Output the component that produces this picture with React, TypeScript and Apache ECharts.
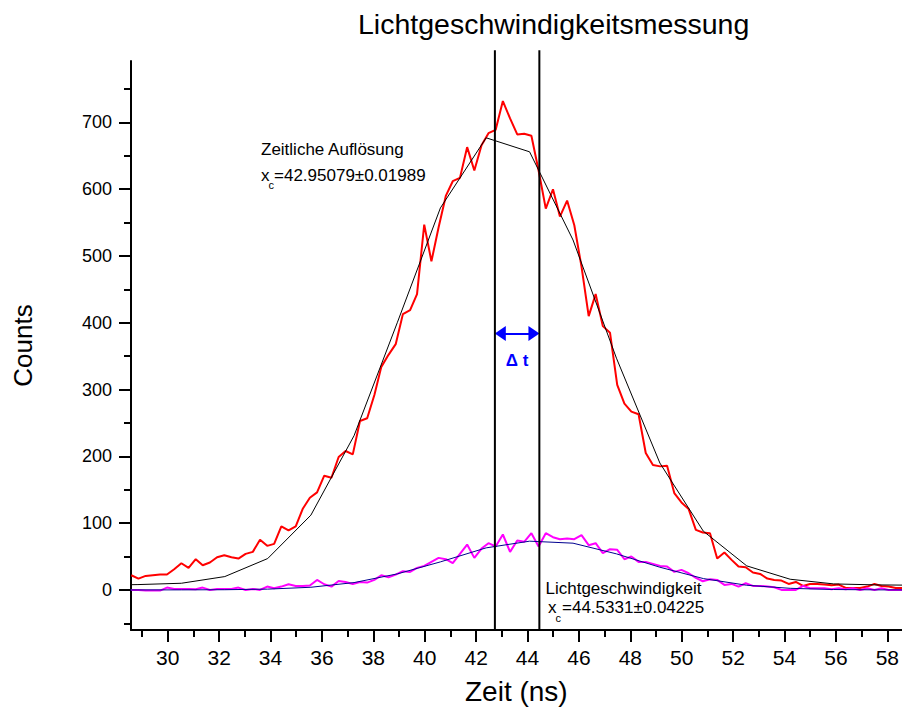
import React, { useEffect, useRef } from "react";
import * as echarts from "echarts";

// Measured channels (ns)
const timeNs = [
  28.58, 28.86, 29.14, 29.42, 29.7, 29.97, 30.25, 30.53, 30.81, 31.09,
  31.36, 31.64, 31.92, 32.2, 32.48, 32.75, 33.03, 33.31, 33.59, 33.87,
  34.14, 34.42, 34.7, 34.98, 35.26, 35.53, 35.81, 36.09, 36.37, 36.65,
  36.92, 37.2, 37.48, 37.76, 38.04, 38.31, 38.59, 38.87, 39.15, 39.43,
  39.7, 39.98, 40.26, 40.54, 40.82, 41.09, 41.37, 41.65, 41.93, 42.21,
  42.48, 42.76, 43.04, 43.32, 43.6, 43.87, 44.15, 44.43, 44.71, 44.99,
  45.26, 45.54, 45.82, 46.1, 46.38, 46.65, 46.93, 47.21, 47.49, 47.77,
  48.04, 48.32, 48.6, 48.88, 49.16, 49.43, 49.71, 49.99, 50.27, 50.55,
  50.82, 51.1, 51.38, 51.66, 51.94, 52.21, 52.49, 52.77, 53.05, 53.33,
  53.6, 53.88, 54.16, 54.44, 54.72, 54.99, 55.27, 55.55, 55.83, 56.11,
  56.38, 56.66, 56.94, 57.22, 57.5, 57.77, 58.05, 58.33, 58.61,
];

// Zeitliche Auflösung (red)
const countsResolution = [
  22, 17, 21, 22, 23, 23, 31, 40, 33, 46,
  37, 41, 49, 52, 49, 47, 54, 57, 75, 66,
  69, 95, 89, 95, 122, 138, 146, 171, 168, 199,
  208, 203, 253, 257, 292, 334, 352, 368, 413, 419,
  443, 547, 492, 543, 590, 612, 617, 663, 628, 666,
  684, 689, 732, 706, 682, 683, 680, 628, 571, 600,
  559, 583, 546, 484, 410, 443, 395, 385, 307, 279,
  267, 263, 205, 187, 185, 186, 145, 131, 121, 90,
  86, 85, 47, 56, 45, 35, 34, 26, 24, 17,
  15, 14, 9, 12, 6, 9, 9, 8, 7, 8,
  3, 3, 3, 5, 9, 6, 5, 3, 3,
];

// Lichtgeschwindigkeit (magenta)
const countsLight = [
  0, 0, -1, -1, -1, 3.5, 1.5, 1.5, 1.5, 1,
  3.5, 0, 1.5, 1.5, 1.5, 3.5, 0, 1.5, 0, 5,
  2.5, 5, 8.5, 6, 6, 6.5, 15, 8.5, 5, 13.5,
  12, 9, 12, 11, 15, 22, 19, 23, 28, 27,
  33, 36, 42, 48, 46, 40, 54, 68, 48, 62,
  70, 65, 83, 57, 74, 72, 85, 65, 85, 79,
  76, 77, 76, 82, 67, 70, 55, 61, 60, 46,
  50, 42, 42, 39, 36, 35, 27, 30, 25, 18,
  13, 16, 15, 7.5, 9, 5, 10, 6, 6, 5,
  4, 0, 0, 0, 6, 2.5, 2.5, 2.5, 1, 2.5,
  1, 2.5, 0, 2.5, 0, 2.5, 0, 0, 0,
];

// Gaussian fit curves (sampled)
const fitTimeNs = [
  27.15, 28.84, 30.53, 32.22, 33.89, 35.57, 37.25, 38.93, 40.61, 42.39,
  44.08, 45.77, 47.46, 49.15, 50.84, 52.53, 54.22, 55.91, 57.6, 59.29,
];
const fitResolution = [
  7, 8, 10, 20, 47, 112, 231, 400, 572, 677,
  656, 524, 347, 190, 88, 36, 16, 9, 7.5, 7,
];
const fitLight = [
  0, 0, 0.1, 0.3, 1.2, 4, 11, 24, 42, 63,
  73, 70, 54, 34, 17, 7, 2.4, 0.6, 0.1, 0,
];

const xMajorTicks = [30, 32, 34, 36, 38, 40, 42, 44, 46, 48, 50, 52, 54, 56, 58];
const xMinorTicks = [29, 31, 33, 35, 37, 39, 41, 43, 45, 47, 49, 51, 53, 55, 57];
const yMajorTicks = [0, 100, 200, 300, 400, 500, 600, 700];
const yMinorTicks = [-50, 50, 150, 250, 350, 450, 550, 650, 750];

const markerTimes = [42.73, 44.46];
const markerTop = 808;
const arrowFrom = 42.94;
const arrowTo = 44.25;
const arrowLevel = 384;

const X_MIN = 28.57;
const X_MAX = 58.56;
const Y_MIN = -60;
const Y_MAX = 792;

const FONT = "'Liberation Sans', Arial, Helvetica, sans-serif";

export default function App() {
  const ref = useRef<HTMLDivElement | null>(null);

  useEffect(() => {
    if (!ref.current) return;
    const chart = echarts.init(ref.current, undefined, { renderer: "svg" });

    const pairs = (xs: number[], ys: number[]) => xs.map((x, i) => [x, ys[i]]);

    const axisLineStyle = { color: "#000", width: 2 };

    const texts: any[] = [
      { type: "text", x: 261, y: 149, style: { text: "Zeitliche Auflösung", fontSize: 17, fontFamily: FONT, fill: "#000", verticalAlign: "middle" } },
      { type: "text", x: 261, y: 175, style: { text: "x", fontSize: 17, fontFamily: FONT, fill: "#000", verticalAlign: "middle" } },
      { type: "text", x: 268.5, y: 184.5, style: { text: "c", fontSize: 11, fontFamily: FONT, fill: "#000", verticalAlign: "middle" } },
      { type: "text", x: 274, y: 175, style: { text: "=42.95079±0.01989", fontSize: 17, fontFamily: FONT, fill: "#000", verticalAlign: "middle" } },
      { type: "text", x: 545.5, y: 588.5, style: { text: "Lichtgeschwindigkeit", fontSize: 17, fontFamily: FONT, fill: "#000", verticalAlign: "middle" } },
      { type: "text", x: 548, y: 607.5, style: { text: "x", fontSize: 17, fontFamily: FONT, fill: "#000", verticalAlign: "middle" } },
      { type: "text", x: 555.5, y: 617.5, style: { text: "c", fontSize: 11, fontFamily: FONT, fill: "#000", verticalAlign: "middle" } },
      { type: "text", x: 562, y: 607.5, style: { text: "=44.5331±0.04225", fontSize: 17, fontFamily: FONT, fill: "#000", verticalAlign: "middle" } },
    ];

    const option: any = {
      animation: false,
      backgroundColor: "#fff",
      title: {
        text: "Lichtgeschwindigkeitsmessung",
        left: 353,
        top: 4,
        textStyle: { fontSize: 28.5, fontWeight: "normal", color: "#000", fontFamily: FONT },
      },
      grid: { left: 131, top: 61, width: 771, height: 569, containLabel: false },
      xAxis: [
        {
          type: "value",
          min: X_MIN,
          max: X_MAX,
          position: "bottom",
          axisLine: { show: true, onZero: false, lineStyle: axisLineStyle },
          axisTick: { show: true, length: 12, lineStyle: axisLineStyle, customValues: xMajorTicks },
          axisLabel: { customValues: xMajorTicks, fontSize: 21, color: "#000", margin: 17, fontFamily: FONT },
          splitLine: { show: false },
          name: "Zeit (ns)",
          nameLocation: "middle",
          nameGap: 47,
          nameTextStyle: { fontSize: 28, color: "#000", fontFamily: FONT },
        },
        {
          type: "value",
          min: X_MIN,
          max: X_MAX,
          position: "bottom",
          axisLine: { show: false, onZero: false },
          axisTick: { show: true, length: 7, lineStyle: axisLineStyle, customValues: xMinorTicks },
          axisLabel: { show: false },
          splitLine: { show: false },
        },
      ],
      yAxis: [
        {
          type: "value",
          min: Y_MIN,
          max: Y_MAX,
          position: "left",
          axisLine: { show: true, onZero: false, lineStyle: axisLineStyle },
          axisTick: { show: true, length: 12, lineStyle: axisLineStyle, customValues: yMajorTicks },
          axisLabel: { customValues: yMajorTicks, fontSize: 18, color: "#000", margin: 19, fontFamily: FONT },
          splitLine: { show: false },
          name: "Counts",
          nameLocation: "middle",
          nameGap: 95,
          nameTextStyle: { fontSize: 26, color: "#000", fontFamily: FONT },
        },
        {
          type: "value",
          min: Y_MIN,
          max: Y_MAX,
          position: "left",
          axisLine: { show: false, onZero: false },
          axisTick: { show: true, length: 7, lineStyle: axisLineStyle, customValues: yMinorTicks },
          axisLabel: { show: false },
          splitLine: { show: false },
        },
      ],
      series: [
        {
          name: "Zeitliche Auflösung",
          type: "line",
          data: pairs(timeNs, countsResolution),
          showSymbol: false,
          clip: true,
          lineStyle: { color: "#ff0000", width: 2 },
          itemStyle: { color: "#ff0000" },
          markLine: {
            silent: true,
            animation: false,
            symbol: ["none", "none"],
            data: [
              [
                {
                  coord: [arrowFrom, arrowLevel],
                  symbol: "triangle",
                  symbolSize: [15, 11],
                  lineStyle: { color: "#0000ff", width: 2, type: "solid" },
                  itemStyle: { color: "#0000ff" },
                  label: {
                    show: true,
                    formatter: "Δ t",
                    position: "insideMiddleBottom",
                    distance: 19,
                    color: "#0000ff",
                    fontWeight: "bold",
                    fontSize: 17,
                    fontFamily: FONT,
                  },
                },
                {
                  coord: [arrowTo, arrowLevel],
                  symbol: "triangle",
                  symbolSize: [15, 11],
                },
              ],
            ],
          },
        },
        {
          name: "Fit Auflösung",
          type: "line",
          data: pairs(fitTimeNs, fitResolution),
          showSymbol: false,
          lineStyle: { color: "#000", width: 1 },
          itemStyle: { color: "#000" },
        },
        {
          name: "Lichtgeschwindigkeit",
          type: "line",
          data: pairs(timeNs, countsLight),
          showSymbol: false,
          lineStyle: { color: "#ff00ff", width: 2 },
          itemStyle: { color: "#ff00ff" },
        },
        {
          name: "Fit Licht",
          type: "line",
          data: pairs(fitTimeNs, fitLight),
          showSymbol: false,
          lineStyle: { color: "#000090", width: 1 },
          itemStyle: { color: "#000090" },
        },
      ],
      graphic: texts,
    };

    chart.setOption(option);

    const yBottom = chart.convertToPixel({ yAxisIndex: 0 }, Y_MIN) as number;
    const yTop = chart.convertToPixel({ yAxisIndex: 0 }, markerTop) as number;
    const markerLines = markerTimes.map((t) => {
      const px = chart.convertToPixel({ xAxisIndex: 0 }, t) as number;
      return {
        type: "line",
        z: 100,
        shape: { x1: px, y1: yTop, x2: px, y2: yBottom },
        style: { stroke: "#000", lineWidth: 2 },
      };
    });
    chart.setOption({ graphic: [...texts, ...markerLines] });

    return () => chart.dispose();
  }, []);

  return (
    <div
      ref={ref}
      style={{ position: "absolute", left: 0, top: 0, width: 902, height: 717, background: "#fff" }}
    />
  );
}
